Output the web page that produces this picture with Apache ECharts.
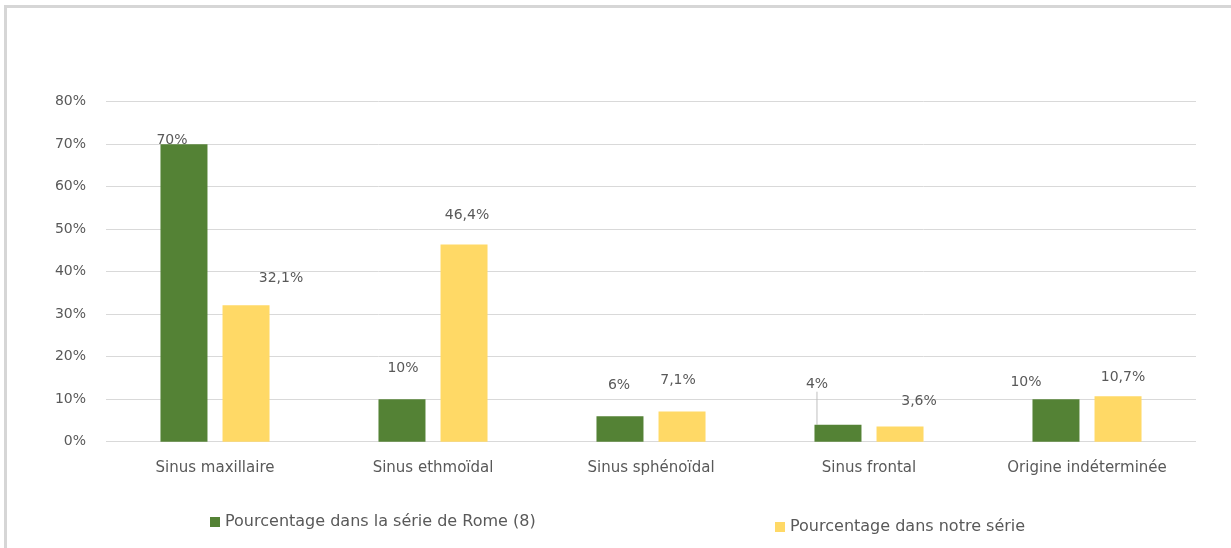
<!DOCTYPE html>
<html>
<head>
<meta charset="utf-8">
<script src="https://cdn.jsdelivr.net/npm/echarts@6/dist/echarts.min.js"></script>
<style>
html,body{margin:0;padding:0;background:#fff;}
#chart{width:1231px;height:548px;}
</style>
</head>
<body>
<div id="chart"></div>
<script>
const categories = ['Sinus maxillaire', 'Sinus ethmoïdal', 'Sinus sphénoïdal', 'Sinus frontal', 'Origine indéterminée'];
const romeValues = [70, 10, 6, 4, 10];
const notreValues = [32.1, 46.4, 7.1, 3.6, 10.7];
const yTicks = [0, 10, 20, 30, 40, 50, 60, 70, 80];
const seriesNames = ['Pourcentage dans la série de Rome (8)', 'Pourcentage dans notre série'];

const textColor = '#595959';
const font = 'DejaVu Sans';
const fmt = v => String(v).replace('.', ',') + '%';

// label nudges (styling only), per series / data index
const nudges = [
  [[-12, 25], [1, -2], [-1, -2], [-21, -11], [-30, 12]],
  [[35, 2], [3, 0], [-4, -2], [19, 4], [5, 10]]
];

const chart = echarts.init(document.getElementById('chart'), null, {renderer: 'canvas'});

const romeData = romeValues.map((v, i) => i === 3 ? {value: v, labelLine: {show: true}} : {value: v});

chart.setOption({
  animation: false,
  backgroundColor: '#fff',
  graphic: [
    {type: 'line', shape: {x1: 5, y1: 6.5, x2: 1231, y2: 6.5}, style: {stroke: '#d6d6d6', lineWidth: 3}},
    {type: 'line', shape: {x1: 5.5, y1: 5, x2: 5.5, y2: 548}, style: {stroke: '#d6d6d6', lineWidth: 3}}
  ],
  grid: {left: 106, right: 35, top: 101.7, bottom: 106.3},
  legend: [
    {
      data: [seriesNames[0]], left: 210, top: 514, padding: 0,
      icon: 'rect', itemWidth: 10, itemHeight: 10, itemGap: 6,
      textStyle: {color: textColor, fontFamily: font, fontSize: 16}
    },
    {
      data: [seriesNames[1]], left: 775, top: 519, padding: 0,
      icon: 'rect', itemWidth: 10, itemHeight: 10, itemGap: 6,
      textStyle: {color: textColor, fontFamily: font, fontSize: 16}
    }
  ],
  xAxis: {
    type: 'category',
    data: categories,
    axisLine: {show: false},
    axisTick: {show: false},
    axisLabel: {color: textColor, fontFamily: font, fontSize: 15, margin: 19, interval: 0}
  },
  yAxis: {
    type: 'value',
    min: yTicks[0],
    max: yTicks[yTicks.length - 1],
    interval: 10,
    axisLine: {show: false},
    axisTick: {show: false},
    splitLine: {lineStyle: {color: '#d9d9d9', width: 1}},
    axisLabel: {color: textColor, fontFamily: font, fontSize: 14, margin: 20, formatter: v => v + '%'}
  },
  series: [
    {
      name: seriesNames[0],
      type: 'bar',
      data: romeData,
      barWidth: 47,
      barGap: '32%',
      itemStyle: {color: '#548235'},
      label: {show: true, position: 'top', distance: 22, color: textColor, fontFamily: font, fontSize: 14, formatter: p => fmt(p.value)},
      labelLine: {show: false, lineStyle: {color: '#bfbfbf', width: 1}},
      labelLayout: p => ({dx: nudges[0][p.dataIndex][0], dy: nudges[0][p.dataIndex][1]})
    },
    {
      name: seriesNames[1],
      type: 'bar',
      data: notreValues,
      barWidth: 47,
      barGap: '32%',
      itemStyle: {color: '#FFD966'},
      label: {show: true, position: 'top', distance: 22, color: textColor, fontFamily: font, fontSize: 14, formatter: p => fmt(p.value)},
      labelLayout: p => ({dx: nudges[1][p.dataIndex][0], dy: nudges[1][p.dataIndex][1]})
    }
  ]
});
</script>
</body>
</html>
